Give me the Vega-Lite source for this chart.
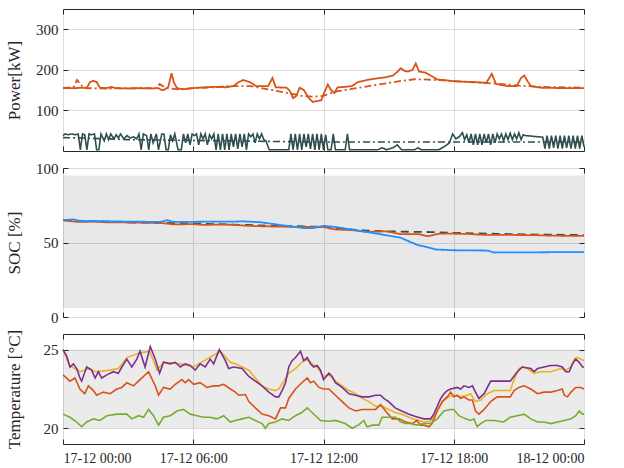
{
"$schema":"https://vega.github.io/schema/vega-lite/v6.json",
"padding":{"left":4,"top":8,"right":5,"bottom":5},
"datasets":{
"power":[
{"t":0,"s":"load","v":155},{"t":0.5,"s":"load","v":155},{"t":1.1,"s":"load","v":156},{"t":1.25,"s":"load","v":170},{"t":1.4,"s":"load","v":173},{"t":1.55,"s":"load","v":170},{"t":1.7,"s":"load","v":156},{"t":2.0,"s":"load","v":155},{"t":2.25,"s":"load","v":158},{"t":2.4,"s":"load","v":155},{"t":3.0,"s":"load","v":154},{"t":3.5,"s":"load","v":155},{"t":4.0,"s":"load","v":154},{"t":4.4,"s":"load","v":155},{"t":4.55,"s":"load","v":150},{"t":4.7,"s":"load","v":152},{"t":4.85,"s":"load","v":158},{"t":5.0,"s":"load","v":192},{"t":5.1,"s":"load","v":170},{"t":5.25,"s":"load","v":155},{"t":5.5,"s":"load","v":152},{"t":6.0,"s":"load","v":155},{"t":6.5,"s":"load","v":157},{"t":7.0,"s":"load","v":158},{"t":7.5,"s":"load","v":157},{"t":7.85,"s":"load","v":160},{"t":8.1,"s":"load","v":170},{"t":8.3,"s":"load","v":175},{"t":8.6,"s":"load","v":170},{"t":8.9,"s":"load","v":160},{"t":9.45,"s":"load","v":160},{"t":9.65,"s":"load","v":180},{"t":9.8,"s":"load","v":157},{"t":10.3,"s":"load","v":156},{"t":10.45,"s":"load","v":148},{"t":10.6,"s":"load","v":130},{"t":10.75,"s":"load","v":136},{"t":10.9,"s":"load","v":156},{"t":11.1,"s":"load","v":150},{"t":11.3,"s":"load","v":132},{"t":11.5,"s":"load","v":121},{"t":11.7,"s":"load","v":123},{"t":11.9,"s":"load","v":125},{"t":12.0,"s":"load","v":140},{"t":12.2,"s":"load","v":164},{"t":12.35,"s":"load","v":150},{"t":12.5,"s":"load","v":143},{"t":12.65,"s":"load","v":157},{"t":13.0,"s":"load","v":158},{"t":13.3,"s":"load","v":160},{"t":13.6,"s":"load","v":170},{"t":14.1,"s":"load","v":176},{"t":14.6,"s":"load","v":180},{"t":14.9,"s":"load","v":182},{"t":15.2,"s":"load","v":186},{"t":15.4,"s":"load","v":195},{"t":15.55,"s":"load","v":204},{"t":15.75,"s":"load","v":197},{"t":15.9,"s":"load","v":196},{"t":16.1,"s":"load","v":200},{"t":16.25,"s":"load","v":216},{"t":16.4,"s":"load","v":196},{"t":16.7,"s":"load","v":193},{"t":17.0,"s":"load","v":184},{"t":17.25,"s":"load","v":176},{"t":17.7,"s":"load","v":174},{"t":18.0,"s":"load","v":172},{"t":18.9,"s":"load","v":170},{"t":19.5,"s":"load","v":168},{"t":19.75,"s":"load","v":190},{"t":19.95,"s":"load","v":165},{"t":20.5,"s":"load","v":160},{"t":20.9,"s":"load","v":160},{"t":21.1,"s":"load","v":180},{"t":21.25,"s":"load","v":186},{"t":21.4,"s":"load","v":172},{"t":21.55,"s":"load","v":160},{"t":22.0,"s":"load","v":156},{"t":23.0,"s":"load","v":155},{"t":24.0,"s":"load","v":155},
{"t":0,"s":"loadref","v":155},{"t":0.5,"s":"loadref","v":158},{"t":0.65,"s":"loadref","v":175},{"t":0.8,"s":"loadref","v":165},{"t":0.95,"s":"loadref","v":155},{"t":2,"s":"loadref","v":154},{"t":4.3,"s":"loadref","v":155},{"t":4.45,"s":"loadref","v":165},{"t":4.6,"s":"loadref","v":160},{"t":4.8,"s":"loadref","v":155},{"t":5.3,"s":"loadref","v":152},{"t":6,"s":"loadref","v":155},{"t":7,"s":"loadref","v":157},{"t":7.6,"s":"loadref","v":160},{"t":8.65,"s":"loadref","v":160},{"t":9.45,"s":"loadref","v":152},{"t":10.25,"s":"loadref","v":144},{"t":11,"s":"loadref","v":136},{"t":11.55,"s":"loadref","v":134},{"t":12,"s":"loadref","v":136},{"t":12.3,"s":"loadref","v":142},{"t":12.6,"s":"loadref","v":147},{"t":13.3,"s":"loadref","v":153},{"t":14.1,"s":"loadref","v":160},{"t":14.9,"s":"loadref","v":167},{"t":15.6,"s":"loadref","v":173},{"t":16.25,"s":"loadref","v":177},{"t":16.8,"s":"loadref","v":176},{"t":17.55,"s":"loadref","v":174},{"t":18,"s":"loadref","v":172},{"t":19,"s":"loadref","v":169},{"t":20,"s":"loadref","v":166},{"t":21,"s":"loadref","v":161},{"t":22,"s":"loadref","v":158},{"t":24,"s":"loadref","v":156},
{"t":0,"s":"batref","v":33},{"t":1,"s":"batref","v":32},{"t":3,"s":"batref","v":28},{"t":6,"s":"batref","v":26},{"t":9,"s":"batref","v":24},{"t":12,"s":"batref","v":22},{"t":15,"s":"batref","v":22},{"t":18,"s":"batref","v":22},{"t":21,"s":"batref","v":22},{"t":24,"s":"batref","v":22},
{"t":0,"s":"bat","v":38},{"t":0.1,"s":"bat","v":42},{"t":0.25,"s":"bat","v":40},{"t":0.4,"s":"bat","v":42},{"t":0.55,"s":"bat","v":40},{"t":0.7,"s":"bat","v":42},{"t":0.8,"s":"bat","v":3},{"t":0.9,"s":"bat","v":42},{"t":1.0,"s":"bat","v":40},{"t":1.1,"s":"bat","v":3},{"t":1.2,"s":"bat","v":42},{"t":1.3,"s":"bat","v":40},{"t":1.45,"s":"bat","v":42},{"t":1.55,"s":"bat","v":3},{"t":1.65,"s":"bat","v":3},{"t":1.75,"s":"bat","v":42},{"t":1.9,"s":"bat","v":25},{"t":2.0,"s":"bat","v":42},{"t":2.1,"s":"bat","v":28},{"t":2.2,"s":"bat","v":42},{"t":2.35,"s":"bat","v":30},{"t":2.45,"s":"bat","v":40},{"t":2.55,"s":"bat","v":32},{"t":2.65,"s":"bat","v":42},{"t":2.8,"s":"bat","v":30},{"t":2.95,"s":"bat","v":38},{"t":3.1,"s":"bat","v":32},{"t":3.25,"s":"bat","v":35},{"t":3.4,"s":"bat","v":30},{"t":3.5,"s":"bat","v":42},{"t":3.6,"s":"bat","v":3},{"t":3.7,"s":"bat","v":42},{"t":3.85,"s":"bat","v":38},{"t":3.95,"s":"bat","v":3},{"t":4.05,"s":"bat","v":42},{"t":4.15,"s":"bat","v":20},{"t":4.3,"s":"bat","v":42},{"t":4.4,"s":"bat","v":3},{"t":4.55,"s":"bat","v":42},{"t":4.65,"s":"bat","v":42},{"t":4.75,"s":"bat","v":3},{"t":4.85,"s":"bat","v":3},{"t":4.95,"s":"bat","v":40},{"t":5.05,"s":"bat","v":25},{"t":5.15,"s":"bat","v":42},{"t":5.3,"s":"bat","v":3},{"t":5.45,"s":"bat","v":3},{"t":5.55,"s":"bat","v":42},{"t":5.65,"s":"bat","v":20},{"t":5.75,"s":"bat","v":42},{"t":5.85,"s":"bat","v":15},{"t":5.95,"s":"bat","v":42},{"t":6.05,"s":"bat","v":38},{"t":6.15,"s":"bat","v":42},{"t":6.25,"s":"bat","v":15},{"t":6.35,"s":"bat","v":42},{"t":6.45,"s":"bat","v":30},{"t":6.55,"s":"bat","v":42},{"t":6.65,"s":"bat","v":15},{"t":6.75,"s":"bat","v":40},{"t":6.85,"s":"bat","v":30},{"t":6.95,"s":"bat","v":42},{"t":7.05,"s":"bat","v":3},{"t":7.15,"s":"bat","v":42},{"t":7.25,"s":"bat","v":3},{"t":7.35,"s":"bat","v":42},{"t":7.45,"s":"bat","v":3},{"t":7.55,"s":"bat","v":42},{"t":7.65,"s":"bat","v":3},{"t":7.75,"s":"bat","v":42},{"t":7.85,"s":"bat","v":10},{"t":7.95,"s":"bat","v":42},{"t":8.05,"s":"bat","v":5},{"t":8.15,"s":"bat","v":42},{"t":8.25,"s":"bat","v":10},{"t":8.35,"s":"bat","v":42},{"t":8.45,"s":"bat","v":3},{"t":8.55,"s":"bat","v":42},{"t":8.65,"s":"bat","v":35},{"t":8.75,"s":"bat","v":42},{"t":8.85,"s":"bat","v":20},{"t":8.95,"s":"bat","v":42},{"t":9.05,"s":"bat","v":30},{"t":9.15,"s":"bat","v":42},{"t":9.25,"s":"bat","v":28},{"t":9.35,"s":"bat","v":25},{"t":9.5,"s":"bat","v":3},{"t":10.4,"s":"bat","v":3},{"t":10.5,"s":"bat","v":42},{"t":10.6,"s":"bat","v":3},{"t":10.7,"s":"bat","v":42},{"t":10.8,"s":"bat","v":3},{"t":10.9,"s":"bat","v":42},{"t":11.0,"s":"bat","v":3},{"t":11.1,"s":"bat","v":42},{"t":11.2,"s":"bat","v":10},{"t":11.3,"s":"bat","v":42},{"t":11.4,"s":"bat","v":5},{"t":11.5,"s":"bat","v":42},{"t":11.6,"s":"bat","v":3},{"t":11.7,"s":"bat","v":42},{"t":11.8,"s":"bat","v":3},{"t":11.9,"s":"bat","v":42},{"t":12.0,"s":"bat","v":3},{"t":12.1,"s":"bat","v":40},{"t":12.2,"s":"bat","v":3},{"t":12.35,"s":"bat","v":3},{"t":12.45,"s":"bat","v":42},{"t":12.55,"s":"bat","v":3},{"t":13.0,"s":"bat","v":3},{"t":13.1,"s":"bat","v":42},{"t":13.2,"s":"bat","v":3},{"t":14.5,"s":"bat","v":3},{"t":14.7,"s":"bat","v":8},{"t":14.9,"s":"bat","v":3},{"t":15.2,"s":"bat","v":8},{"t":15.4,"s":"bat","v":15},{"t":15.6,"s":"bat","v":3},{"t":16.2,"s":"bat","v":3},{"t":16.35,"s":"bat","v":8},{"t":16.5,"s":"bat","v":3},{"t":17.3,"s":"bat","v":3},{"t":17.6,"s":"bat","v":12},{"t":17.8,"s":"bat","v":20},{"t":17.95,"s":"bat","v":42},{"t":18.1,"s":"bat","v":30},{"t":18.25,"s":"bat","v":35},{"t":18.4,"s":"bat","v":45},{"t":18.5,"s":"bat","v":28},{"t":18.6,"s":"bat","v":40},{"t":18.7,"s":"bat","v":20},{"t":18.8,"s":"bat","v":42},{"t":18.9,"s":"bat","v":15},{"t":19.0,"s":"bat","v":42},{"t":19.1,"s":"bat","v":15},{"t":19.2,"s":"bat","v":42},{"t":19.3,"s":"bat","v":15},{"t":19.4,"s":"bat","v":42},{"t":19.5,"s":"bat","v":20},{"t":19.6,"s":"bat","v":42},{"t":19.7,"s":"bat","v":15},{"t":19.8,"s":"bat","v":42},{"t":19.9,"s":"bat","v":20},{"t":20.0,"s":"bat","v":42},{"t":20.1,"s":"bat","v":30},{"t":20.2,"s":"bat","v":42},{"t":20.3,"s":"bat","v":25},{"t":20.4,"s":"bat","v":42},{"t":20.5,"s":"bat","v":28},{"t":20.6,"s":"bat","v":44},{"t":20.7,"s":"bat","v":28},{"t":20.8,"s":"bat","v":42},{"t":20.9,"s":"bat","v":30},{"t":21.0,"s":"bat","v":45},{"t":21.1,"s":"bat","v":28},{"t":21.2,"s":"bat","v":40},{"t":21.3,"s":"bat","v":38},{"t":22.1,"s":"bat","v":34},{"t":22.2,"s":"bat","v":6},{"t":22.3,"s":"bat","v":38},{"t":22.4,"s":"bat","v":6},{"t":22.5,"s":"bat","v":38},{"t":22.6,"s":"bat","v":8},{"t":22.7,"s":"bat","v":38},{"t":22.8,"s":"bat","v":6},{"t":22.9,"s":"bat","v":38},{"t":23.0,"s":"bat","v":6},{"t":23.1,"s":"bat","v":38},{"t":23.2,"s":"bat","v":8},{"t":23.3,"s":"bat","v":38},{"t":23.4,"s":"bat","v":6},{"t":23.5,"s":"bat","v":38},{"t":23.6,"s":"bat","v":6},{"t":23.7,"s":"bat","v":38},{"t":23.8,"s":"bat","v":6},{"t":23.9,"s":"bat","v":38},{"t":24.0,"s":"bat","v":10}
],
"soc":[
{"t":0,"s":"ref","v":65},{"t":3,"s":"ref","v":63.5},{"t":6,"s":"ref","v":62.8},{"t":9,"s":"ref","v":61.5},{"t":12,"s":"ref","v":60.5},{"t":13,"s":"ref","v":59},{"t":14,"s":"ref","v":58},{"t":15,"s":"ref","v":57.5},{"t":16,"s":"ref","v":57.2},{"t":17,"s":"ref","v":57},{"t":18,"s":"ref","v":56.5},{"t":20,"s":"ref","v":55.8},{"t":22,"s":"ref","v":55.3},{"t":24,"s":"ref","v":55},
{"t":0,"s":"est","v":64.8},{"t":0.7,"s":"est","v":63.8},{"t":1.5,"s":"est","v":64.0},{"t":2,"s":"est","v":63.5},{"t":3.5,"s":"est","v":63.4},{"t":4.5,"s":"est","v":63.1},{"t":5.1,"s":"est","v":62.2},{"t":6,"s":"est","v":62.3},{"t":6.5,"s":"est","v":61.8},{"t":7,"s":"est","v":62.0},{"t":7.85,"s":"est","v":61.9},{"t":8.5,"s":"est","v":61.2},{"t":9.4,"s":"est","v":60.8},{"t":11,"s":"est","v":60.4},{"t":12,"s":"est","v":60.4},{"t":12.5,"s":"est","v":58.8},{"t":13.3,"s":"est","v":58.3},{"t":14,"s":"est","v":57.1},{"t":14.9,"s":"est","v":57.5},{"t":15.55,"s":"est","v":55.6},{"t":16.4,"s":"est","v":55.6},{"t":16.8,"s":"est","v":54.2},{"t":17.35,"s":"est","v":56},{"t":18.6,"s":"est","v":55.8},{"t":19.3,"s":"est","v":55.2},{"t":20.1,"s":"est","v":55.1},{"t":21.6,"s":"est","v":55},{"t":22.5,"s":"est","v":54.6},{"t":24,"s":"est","v":54.4},
{"t":0,"s":"meas","v":65},{"t":0.5,"s":"meas","v":65.5},{"t":0.7,"s":"meas","v":64.5},{"t":2,"s":"meas","v":64.2},{"t":4.5,"s":"meas","v":63.8},{"t":4.8,"s":"meas","v":65},{"t":5.1,"s":"meas","v":63.8},{"t":7,"s":"meas","v":64},{"t":7.85,"s":"meas","v":64},{"t":8.3,"s":"meas","v":64.2},{"t":9.1,"s":"meas","v":63.6},{"t":9.55,"s":"meas","v":62.7},{"t":10.3,"s":"meas","v":61.2},{"t":11.1,"s":"meas","v":59.7},{"t":11.5,"s":"meas","v":59.6},{"t":12,"s":"meas","v":61.2},{"t":12.5,"s":"meas","v":60.5},{"t":14,"s":"meas","v":57.1},{"t":15.55,"s":"meas","v":53.2},{"t":16.3,"s":"meas","v":48.5},{"t":17.2,"s":"meas","v":45.3},{"t":18,"s":"meas","v":44.8},{"t":19.55,"s":"meas","v":44.6},{"t":19.85,"s":"meas","v":43.3},{"t":21.5,"s":"meas","v":43.4},{"t":24,"s":"meas","v":43.6}
],
"temp":[
{"t":0,"s":"T2","v":25.0},{"t":0.3,"s":"T2","v":24.0},{"t":0.78,"s":"T2","v":23.6},{"t":1.2,"s":"T2","v":23.8},{"t":1.5,"s":"T2","v":23.6},{"t":2.17,"s":"T2","v":23.7},{"t":2.55,"s":"T2","v":23.8},{"t":2.94,"s":"T2","v":24.5},{"t":3.55,"s":"T2","v":24.8},{"t":4.0,"s":"T2","v":24.9},{"t":4.33,"s":"T2","v":23.7},{"t":4.63,"s":"T2","v":24.2},{"t":5.4,"s":"T2","v":24.1},{"t":6.0,"s":"T2","v":23.9},{"t":6.63,"s":"T2","v":24.4},{"t":7.25,"s":"T2","v":24.9},{"t":7.7,"s":"T2","v":24.2},{"t":7.94,"s":"T2","v":24.1},{"t":8.25,"s":"T2","v":23.9},{"t":8.56,"s":"T2","v":23.7},{"t":8.86,"s":"T2","v":23.2},{"t":9.17,"s":"T2","v":22.7},{"t":9.48,"s":"T2","v":22.5},{"t":9.79,"s":"T2","v":22.4},{"t":9.94,"s":"T2","v":22.5},{"t":10.17,"s":"T2","v":23.0},{"t":10.4,"s":"T2","v":23.5},{"t":10.71,"s":"T2","v":23.8},{"t":11.0,"s":"T2","v":24.2},{"t":11.25,"s":"T2","v":24.4},{"t":11.48,"s":"T2","v":24.1},{"t":11.71,"s":"T2","v":23.9},{"t":12.0,"s":"T2","v":23.3},{"t":12.25,"s":"T2","v":23.4},{"t":12.55,"s":"T2","v":23.0},{"t":12.86,"s":"T2","v":22.7},{"t":13.17,"s":"T2","v":22.4},{"t":13.48,"s":"T2","v":22.2},{"t":13.78,"s":"T2","v":21.9},{"t":14.09,"s":"T2","v":21.7},{"t":14.4,"s":"T2","v":21.4},{"t":14.7,"s":"T2","v":21.4},{"t":15.0,"s":"T2","v":21.2},{"t":15.3,"s":"T2","v":21.0},{"t":15.6,"s":"T2","v":20.9},{"t":15.94,"s":"T2","v":20.7},{"t":16.24,"s":"T2","v":20.55},{"t":16.63,"s":"T2","v":20.4},{"t":16.93,"s":"T2","v":20.45},{"t":17.16,"s":"T2","v":20.9},{"t":17.3,"s":"T2","v":21.3},{"t":17.55,"s":"T2","v":21.8},{"t":17.78,"s":"T2","v":22.0},{"t":18.0,"s":"T2","v":22.1},{"t":18.32,"s":"T2","v":22.0},{"t":18.6,"s":"T2","v":22.1},{"t":18.78,"s":"T2","v":22.2},{"t":19.0,"s":"T2","v":21.7},{"t":19.25,"s":"T2","v":21.8},{"t":19.55,"s":"T2","v":22.2},{"t":19.86,"s":"T2","v":22.4},{"t":20.6,"s":"T2","v":22.4},{"t":20.78,"s":"T2","v":23.1},{"t":21.0,"s":"T2","v":23.8},{"t":21.16,"s":"T2","v":23.9},{"t":21.4,"s":"T2","v":23.8},{"t":21.7,"s":"T2","v":23.5},{"t":22.0,"s":"T2","v":23.6},{"t":22.47,"s":"T2","v":23.6},{"t":22.93,"s":"T2","v":23.8},{"t":23.16,"s":"T2","v":23.7},{"t":23.4,"s":"T2","v":23.9},{"t":23.55,"s":"T2","v":24.4},{"t":23.7,"s":"T2","v":24.5},{"t":23.85,"s":"T2","v":24.4},{"t":24.0,"s":"T2","v":24.3},
{"t":0,"s":"T1","v":25.0},{"t":0.17,"s":"T1","v":24.6},{"t":0.32,"s":"T1","v":23.9},{"t":0.48,"s":"T1","v":24.1},{"t":0.63,"s":"T1","v":23.8},{"t":0.78,"s":"T1","v":23.2},{"t":0.86,"s":"T1","v":23.0},{"t":1.09,"s":"T1","v":23.9},{"t":1.32,"s":"T1","v":23.7},{"t":1.48,"s":"T1","v":23.2},{"t":1.63,"s":"T1","v":23.6},{"t":1.78,"s":"T1","v":23.2},{"t":2.02,"s":"T1","v":23.4},{"t":2.32,"s":"T1","v":23.6},{"t":2.55,"s":"T1","v":23.5},{"t":2.71,"s":"T1","v":23.9},{"t":2.94,"s":"T1","v":24.4},{"t":3.17,"s":"T1","v":23.9},{"t":3.4,"s":"T1","v":24.4},{"t":3.55,"s":"T1","v":24.9},{"t":3.78,"s":"T1","v":23.9},{"t":4.02,"s":"T1","v":25.2},{"t":4.25,"s":"T1","v":24.4},{"t":4.45,"s":"T1","v":23.5},{"t":4.63,"s":"T1","v":24.2},{"t":4.94,"s":"T1","v":24.1},{"t":5.17,"s":"T1","v":24.2},{"t":5.4,"s":"T1","v":23.9},{"t":5.63,"s":"T1","v":24.1},{"t":5.86,"s":"T1","v":24.0},{"t":6.09,"s":"T1","v":23.7},{"t":6.32,"s":"T1","v":24.1},{"t":6.55,"s":"T1","v":23.9},{"t":6.78,"s":"T1","v":24.4},{"t":6.94,"s":"T1","v":24.1},{"t":7.2,"s":"T1","v":25.0},{"t":7.48,"s":"T1","v":24.3},{"t":7.63,"s":"T1","v":23.8},{"t":7.86,"s":"T1","v":23.9},{"t":8.25,"s":"T1","v":23.8},{"t":8.56,"s":"T1","v":23.3},{"t":8.86,"s":"T1","v":23.0},{"t":9.17,"s":"T1","v":22.7},{"t":9.48,"s":"T1","v":22.3},{"t":9.79,"s":"T1","v":22.0},{"t":9.94,"s":"T1","v":22.0},{"t":10.09,"s":"T1","v":22.4},{"t":10.25,"s":"T1","v":22.9},{"t":10.4,"s":"T1","v":23.9},{"t":10.55,"s":"T1","v":24.3},{"t":10.71,"s":"T1","v":24.5},{"t":10.94,"s":"T1","v":24.9},{"t":11.09,"s":"T1","v":24.3},{"t":11.25,"s":"T1","v":24.5},{"t":11.4,"s":"T1","v":24.1},{"t":11.55,"s":"T1","v":23.9},{"t":11.71,"s":"T1","v":24.0},{"t":11.86,"s":"T1","v":23.7},{"t":12.0,"s":"T1","v":23.1},{"t":12.25,"s":"T1","v":23.5},{"t":12.4,"s":"T1","v":23.3},{"t":12.55,"s":"T1","v":22.9},{"t":12.86,"s":"T1","v":22.6},{"t":13.17,"s":"T1","v":22.2},{"t":13.48,"s":"T1","v":22.1},{"t":13.78,"s":"T1","v":22.0},{"t":14.09,"s":"T1","v":22.0},{"t":14.4,"s":"T1","v":22.1},{"t":14.63,"s":"T1","v":22.1},{"t":14.78,"s":"T1","v":21.9},{"t":15.0,"s":"T1","v":21.7},{"t":15.3,"s":"T1","v":21.3},{"t":15.6,"s":"T1","v":21.1},{"t":15.94,"s":"T1","v":20.9},{"t":16.24,"s":"T1","v":20.75},{"t":16.63,"s":"T1","v":20.6},{"t":16.93,"s":"T1","v":20.6},{"t":17.08,"s":"T1","v":20.9},{"t":17.24,"s":"T1","v":21.4},{"t":17.4,"s":"T1","v":21.9},{"t":17.55,"s":"T1","v":22.2},{"t":17.7,"s":"T1","v":22.4},{"t":17.86,"s":"T1","v":22.5},{"t":18.16,"s":"T1","v":22.6},{"t":18.32,"s":"T1","v":22.5},{"t":18.47,"s":"T1","v":22.7},{"t":18.7,"s":"T1","v":22.6},{"t":18.86,"s":"T1","v":22.7},{"t":19.0,"s":"T1","v":22.3},{"t":19.16,"s":"T1","v":21.9},{"t":19.4,"s":"T1","v":22.2},{"t":19.7,"s":"T1","v":23.0},{"t":20.6,"s":"T1","v":23.0},{"t":20.93,"s":"T1","v":23.6},{"t":21.16,"s":"T1","v":23.9},{"t":21.35,"s":"T1","v":23.85},{"t":21.55,"s":"T1","v":23.8},{"t":21.7,"s":"T1","v":23.6},{"t":21.86,"s":"T1","v":23.8},{"t":22.16,"s":"T1","v":23.9},{"t":22.47,"s":"T1","v":24.0},{"t":22.78,"s":"T1","v":24.0},{"t":23.0,"s":"T1","v":23.9},{"t":23.16,"s":"T1","v":23.6},{"t":23.32,"s":"T1","v":23.6},{"t":23.47,"s":"T1","v":24.1},{"t":23.62,"s":"T1","v":24.4},{"t":23.78,"s":"T1","v":24.2},{"t":23.93,"s":"T1","v":23.9},{"t":24.0,"s":"T1","v":23.9},
{"t":0,"s":"T3","v":23.4},{"t":0.32,"s":"T3","v":23.0},{"t":0.55,"s":"T3","v":23.2},{"t":0.78,"s":"T3","v":22.5},{"t":1.0,"s":"T3","v":22.2},{"t":1.17,"s":"T3","v":22.7},{"t":1.4,"s":"T3","v":22.4},{"t":1.55,"s":"T3","v":22.1},{"t":1.86,"s":"T3","v":22.3},{"t":2.17,"s":"T3","v":22.2},{"t":2.48,"s":"T3","v":22.5},{"t":2.71,"s":"T3","v":22.6},{"t":2.94,"s":"T3","v":22.9},{"t":3.25,"s":"T3","v":22.7},{"t":3.55,"s":"T3","v":23.1},{"t":3.94,"s":"T3","v":23.6},{"t":4.25,"s":"T3","v":22.7},{"t":4.4,"s":"T3","v":22.1},{"t":4.63,"s":"T3","v":22.6},{"t":4.94,"s":"T3","v":22.5},{"t":5.17,"s":"T3","v":22.8},{"t":5.48,"s":"T3","v":23.1},{"t":5.63,"s":"T3","v":22.9},{"t":5.78,"s":"T3","v":23.1},{"t":6.02,"s":"T3","v":22.8},{"t":6.32,"s":"T3","v":22.9},{"t":6.63,"s":"T3","v":22.6},{"t":6.94,"s":"T3","v":22.7},{"t":7.17,"s":"T3","v":22.7},{"t":7.4,"s":"T3","v":22.8},{"t":7.71,"s":"T3","v":22.5},{"t":7.94,"s":"T3","v":22.3},{"t":8.1,"s":"T3","v":22.1},{"t":8.4,"s":"T3","v":22.15},{"t":8.56,"s":"T3","v":21.7},{"t":8.86,"s":"T3","v":21.3},{"t":9.17,"s":"T3","v":20.9},{"t":9.48,"s":"T3","v":20.8},{"t":9.79,"s":"T3","v":20.6},{"t":10.02,"s":"T3","v":21.3},{"t":10.25,"s":"T3","v":21.3},{"t":10.4,"s":"T3","v":21.9},{"t":10.71,"s":"T3","v":22.5},{"t":11.0,"s":"T3","v":22.9},{"t":11.25,"s":"T3","v":23.2},{"t":11.4,"s":"T3","v":22.9},{"t":11.55,"s":"T3","v":23.0},{"t":11.79,"s":"T3","v":22.6},{"t":12.0,"s":"T3","v":22.5},{"t":12.25,"s":"T3","v":22.5},{"t":12.55,"s":"T3","v":22.1},{"t":12.86,"s":"T3","v":21.7},{"t":13.17,"s":"T3","v":21.3},{"t":13.48,"s":"T3","v":21.1},{"t":13.78,"s":"T3","v":21.2},{"t":14.09,"s":"T3","v":21.2},{"t":14.4,"s":"T3","v":21.2},{"t":14.63,"s":"T3","v":21.5},{"t":14.86,"s":"T3","v":21.1},{"t":15.17,"s":"T3","v":20.6},{"t":15.48,"s":"T3","v":20.6},{"t":15.78,"s":"T3","v":20.4},{"t":16.1,"s":"T3","v":20.3},{"t":16.3,"s":"T3","v":20.5},{"t":16.47,"s":"T3","v":20.2},{"t":16.63,"s":"T3","v":20.2},{"t":16.86,"s":"T3","v":20.1},{"t":17.0,"s":"T3","v":20.3},{"t":17.24,"s":"T3","v":21.1},{"t":17.47,"s":"T3","v":21.7},{"t":17.7,"s":"T3","v":22.0},{"t":17.86,"s":"T3","v":22.3},{"t":18.0,"s":"T3","v":22.0},{"t":18.16,"s":"T3","v":22.1},{"t":18.32,"s":"T3","v":21.9},{"t":18.47,"s":"T3","v":22.0},{"t":18.7,"s":"T3","v":21.8},{"t":18.86,"s":"T3","v":21.8},{"t":19.0,"s":"T3","v":21.1},{"t":19.16,"s":"T3","v":20.9},{"t":19.4,"s":"T3","v":21.2},{"t":19.7,"s":"T3","v":21.7},{"t":20.0,"s":"T3","v":22.0},{"t":20.6,"s":"T3","v":22.0},{"t":20.78,"s":"T3","v":22.4},{"t":21.0,"s":"T3","v":22.6},{"t":21.24,"s":"T3","v":22.7},{"t":21.55,"s":"T3","v":22.5},{"t":21.86,"s":"T3","v":22.2},{"t":22.16,"s":"T3","v":22.3},{"t":22.47,"s":"T3","v":22.3},{"t":22.78,"s":"T3","v":22.4},{"t":23.0,"s":"T3","v":22.5},{"t":23.09,"s":"T3","v":22.1},{"t":23.24,"s":"T3","v":22.0},{"t":23.4,"s":"T3","v":22.3},{"t":23.62,"s":"T3","v":22.6},{"t":23.85,"s":"T3","v":22.6},{"t":24.0,"s":"T3","v":22.5},
{"t":0,"s":"T4","v":20.9},{"t":0.32,"s":"T4","v":20.7},{"t":0.63,"s":"T4","v":20.4},{"t":0.86,"s":"T4","v":20.1},{"t":1.09,"s":"T4","v":20.4},{"t":1.4,"s":"T4","v":20.6},{"t":1.71,"s":"T4","v":20.5},{"t":2.02,"s":"T4","v":20.8},{"t":2.48,"s":"T4","v":20.9},{"t":2.94,"s":"T4","v":20.9},{"t":3.17,"s":"T4","v":20.6},{"t":3.48,"s":"T4","v":20.8},{"t":3.71,"s":"T4","v":20.7},{"t":3.94,"s":"T4","v":21.2},{"t":4.17,"s":"T4","v":20.8},{"t":4.4,"s":"T4","v":20.2},{"t":4.63,"s":"T4","v":20.7},{"t":4.94,"s":"T4","v":20.8},{"t":5.25,"s":"T4","v":21.1},{"t":5.55,"s":"T4","v":21.2},{"t":5.86,"s":"T4","v":20.9},{"t":6.17,"s":"T4","v":20.8},{"t":6.48,"s":"T4","v":20.7},{"t":6.78,"s":"T4","v":20.7},{"t":7.09,"s":"T4","v":20.6},{"t":7.4,"s":"T4","v":20.8},{"t":7.71,"s":"T4","v":20.4},{"t":7.94,"s":"T4","v":20.5},{"t":8.25,"s":"T4","v":20.6},{"t":8.56,"s":"T4","v":20.7},{"t":8.86,"s":"T4","v":20.5},{"t":9.17,"s":"T4","v":20.3},{"t":9.32,"s":"T4","v":20.0},{"t":9.48,"s":"T4","v":20.3},{"t":9.79,"s":"T4","v":20.4},{"t":10.09,"s":"T4","v":20.6},{"t":10.4,"s":"T4","v":20.5},{"t":10.71,"s":"T4","v":20.8},{"t":11.0,"s":"T4","v":21.0},{"t":11.25,"s":"T4","v":21.3},{"t":11.4,"s":"T4","v":21.1},{"t":11.63,"s":"T4","v":20.8},{"t":11.86,"s":"T4","v":20.5},{"t":12.25,"s":"T4","v":20.45},{"t":12.55,"s":"T4","v":20.5},{"t":13.0,"s":"T4","v":20.3},{"t":13.32,"s":"T4","v":20.0},{"t":13.6,"s":"T4","v":20.2},{"t":13.86,"s":"T4","v":20.5},{"t":14.0,"s":"T4","v":20.1},{"t":14.25,"s":"T4","v":20.2},{"t":14.55,"s":"T4","v":20.2},{"t":14.7,"s":"T4","v":20.7},{"t":15.0,"s":"T4","v":20.7},{"t":15.32,"s":"T4","v":20.7},{"t":15.55,"s":"T4","v":20.4},{"t":15.8,"s":"T4","v":20.3},{"t":16.0,"s":"T4","v":20.3},{"t":16.3,"s":"T4","v":20.2},{"t":16.63,"s":"T4","v":20.3},{"t":16.93,"s":"T4","v":20.3},{"t":17.24,"s":"T4","v":20.6},{"t":17.55,"s":"T4","v":21.1},{"t":17.86,"s":"T4","v":21.2},{"t":18.0,"s":"T4","v":21.2},{"t":18.24,"s":"T4","v":20.8},{"t":18.55,"s":"T4","v":20.6},{"t":18.78,"s":"T4","v":20.5},{"t":18.93,"s":"T4","v":20.6},{"t":19.08,"s":"T4","v":20.1},{"t":19.24,"s":"T4","v":20.3},{"t":19.47,"s":"T4","v":20.5},{"t":19.86,"s":"T4","v":20.5},{"t":20.3,"s":"T4","v":20.4},{"t":20.6,"s":"T4","v":20.7},{"t":20.93,"s":"T4","v":20.8},{"t":21.24,"s":"T4","v":20.9},{"t":21.55,"s":"T4","v":20.6},{"t":21.86,"s":"T4","v":20.4},{"t":22.16,"s":"T4","v":20.4},{"t":22.47,"s":"T4","v":20.3},{"t":22.78,"s":"T4","v":20.4},{"t":23.09,"s":"T4","v":20.5},{"t":23.4,"s":"T4","v":20.6},{"t":23.62,"s":"T4","v":20.8},{"t":23.78,"s":"T4","v":21.1},{"t":23.93,"s":"T4","v":20.9},{"t":24.0,"s":"T4","v":20.9}
],
"socband":[{"t0":0,"t1":24,"lo":6,"hi":95}],
"tempband":[{"t0":0,"t1":24,"lo":20,"hi":25}]
},
"bounds":"flush",
"spacing":17,
"resolve":{"scale":{"color":"independent","strokeDash":"independent","y":"independent"}},
"vconcat":[
{"width":521,"height":142,
"layer":[
{"data":{"name":"power"},"transform":[{"filter":"datum.s == 'load' || datum.s == 'loadref'"}],
"mark":{"type":"line","strokeWidth":1.8},
"encoding":{
"x":{"field":"t","type":"quantitative","scale":{"domain":[0,24],"nice":false},"axis":{"values":[0,6,12,18,24],"labels":false,"tickSize":-5,"title":null,"grid":true}},
"y":{"field":"v","type":"quantitative","scale":{"domain":[0,350],"nice":false},"axis":{"values":[100,200,300],"tickSize":-5,"labelPadding":10,"title":"Power[kW]","titleX":-40,"grid":true}},
"color":{"field":"s","type":"nominal","scale":{"domain":["load","loadref","bat","batref"],"range":["#D95319","#D95319","#2F4F4F","#2F4F4F"]},"legend":null},
"strokeDash":{"field":"s","type":"nominal","scale":{"domain":["load","loadref","bat","batref"],"range":[[1,0],[7,3,2,3],[1,0],[7,3,2,3]]},"legend":null}}},
{"data":{"name":"power"},"transform":[{"filter":"datum.s == 'bat' || datum.s == 'batref'"}],
"mark":{"type":"line","strokeWidth":1.6},
"encoding":{
"x":{"field":"t","type":"quantitative","scale":{"domain":[0,24],"nice":false},"axis":{"orient":"top","values":[0,6,12,18,24],"labels":false,"tickSize":-5,"title":null,"grid":false}},
"y":{"field":"v","type":"quantitative","scale":{"domain":[0,350],"nice":false},"axis":{"orient":"right","values":[100,200,300],"labels":false,"tickSize":-5,"title":null,"grid":false}},
"color":{"field":"s","type":"nominal","scale":{"domain":["load","loadref","bat","batref"],"range":["#D95319","#D95319","#2F4F4F","#2F4F4F"]},"legend":null},
"strokeDash":{"field":"s","type":"nominal","scale":{"domain":["load","loadref","bat","batref"],"range":[[1,0],[7,3,2,3],[1,0],[7,3,2,3]]},"legend":null}}}
],
"resolve":{"axis":{"x":"independent","y":"independent"}}
},
{"width":521,"height":149,
"layer":[
{"data":{"name":"socband"},"mark":{"type":"rect","color":"#000000","opacity":0.09},
"encoding":{
"x":{"field":"t0","type":"quantitative","scale":{"domain":[0,24],"nice":false},"axis":{"orient":"top","values":[0,6,12,18,24],"labels":false,"tickSize":-5,"title":null,"grid":false}},
"x2":{"field":"t1"},
"y":{"field":"lo","type":"quantitative","scale":{"domain":[0,100],"nice":false},"axis":{"orient":"right","values":[0,50,100],"labels":false,"tickSize":-5,"title":null,"grid":false}},
"y2":{"field":"hi"}}},
{"data":{"name":"soc"},"mark":{"type":"line","strokeWidth":1.8},
"encoding":{
"x":{"field":"t","type":"quantitative","scale":{"domain":[0,24],"nice":false},"axis":{"values":[0,6,12,18,24],"labels":false,"tickSize":-5,"title":null,"grid":true}},
"y":{"field":"v","type":"quantitative","scale":{"domain":[0,100],"nice":false},"axis":{"values":[0,50,100],"tickSize":-5,"labelPadding":10,"title":"SOC [%]","titleX":-40,"grid":true}},
"color":{"field":"s","type":"nominal","scale":{"domain":["ref","est","meas"],"range":["#2F4F4F","#D95319","#1E90FF"]},"legend":null},
"strokeDash":{"field":"s","type":"nominal","scale":{"domain":["ref","est","meas"],"range":[[8,5],[1,0],[1,0]]},"legend":null}}}
],
"resolve":{"axis":{"x":"independent","y":"independent"}}
},
{"width":521,"height":110,
"layer":[
{"data":{"name":"tempband"},"mark":{"type":"rect","color":"#000000","opacity":0.08},
"encoding":{
"x":{"field":"t0","type":"quantitative","scale":{"domain":[0,24],"nice":false},"axis":{"orient":"top","values":[0,6,12,18,24],"labels":false,"tickSize":-5,"title":null,"grid":false}},
"x2":{"field":"t1"},
"y":{"field":"lo","type":"quantitative","scale":{"domain":[19,26],"nice":false},"axis":{"orient":"right","values":[20,25],"labels":false,"tickSize":-5,"title":null,"grid":false}},
"y2":{"field":"hi"}}},
{"data":{"name":"temp"},"mark":{"type":"line","strokeWidth":1.6},
"encoding":{
"x":{"field":"t","type":"quantitative","scale":{"domain":[0,24],"nice":false},"axis":{"values":[0,6,12,18,24],"tickSize":-5,"labelPadding":12,"labelFontSize":14,"title":null,"grid":true,"labelExpr":"datum.value == 24 ? '18-12 00:00' : '17-12 ' + (datum.value < 10 ? '0' : '') + datum.value + ':00'"}},
"y":{"field":"v","type":"quantitative","scale":{"domain":[19,26],"nice":false},"axis":{"values":[20,25],"tickSize":-5,"labelPadding":10,"title":"Temperature [°C]","titleX":-40,"grid":true}},
"color":{"field":"s","type":"nominal","scale":{"domain":["T2","T1","T3","T4"],"range":["#EDB120","#7E2F8E","#D95319","#77AC30"]},"legend":null}}}
],
"resolve":{"axis":{"x":"independent","y":"independent"}}
}
],
"config":{
"font":"Liberation Serif",
"view":{"stroke":"#262626","strokeWidth":1},
"axis":{"labelFont":"Liberation Serif","labelFontSize":15,"labelColor":"#262626","titleFont":"Liberation Serif","titleFontSize":17,"titleFontWeight":"normal","titleColor":"#262626","gridColor":"#dcdcdc","gridWidth":1,"domain":false,"tickColor":"#262626","tickWidth":1}
}
}
